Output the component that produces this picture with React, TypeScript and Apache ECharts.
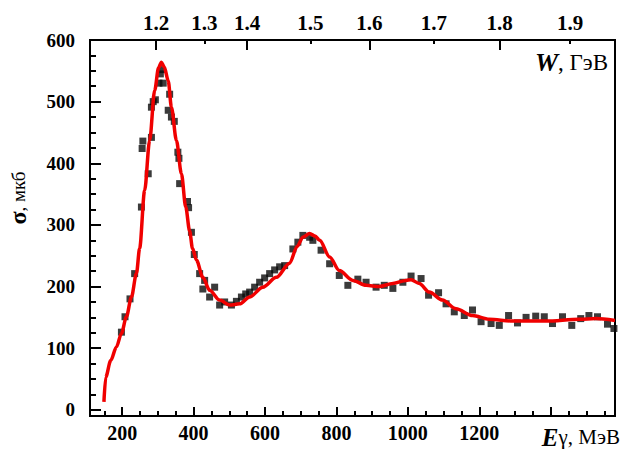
import React, { useEffect, useRef } from "react";
import * as echarts from "echarts";

// Measured cross-section points (E_gamma in MeV, sigma in µb)
const POINT_E = [198, 208, 222, 235, 254, 256, 258, 273, 282, 282, 287, 293, 303, 307, 310, 315, 329, 333, 338, 346, 356, 359, 361, 383, 386, 394, 402, 417, 426, 431, 445, 459, 473, 487, 506, 520, 534, 546, 557, 571, 585, 599, 613, 627, 641, 655, 678, 692, 706, 725, 734, 757, 781, 808, 832, 860, 883, 911, 934, 958, 986, 1009, 1037, 1058, 1086, 1107, 1130, 1158, 1181, 1205, 1233, 1256, 1282, 1307, 1331, 1358, 1382, 1405, 1433, 1459, 1484, 1507, 1531, 1559, 1577];
const POINT_SIGMA = [126, 151, 180, 221, 329, 424, 436, 383, 442, 491, 500, 503, 530, 545, 552, 530, 486, 512, 475, 468, 418, 408, 367, 338, 328, 288, 252, 221, 196, 210, 183, 199, 170, 175, 170, 176, 183, 188, 191, 199, 207, 214, 221, 227, 232, 234, 261, 272, 283, 280, 275, 259, 237, 218, 202, 212, 207, 199, 202, 197, 207, 217, 213, 186, 190, 172, 159, 153, 162, 143, 140, 137, 153, 141, 150, 152, 151, 140, 151, 137, 148, 153, 151, 139, 132];

// Fit curve
const CURVE_E = [149, 154, 168, 184, 198, 212, 226, 240, 249, 263, 277, 291, 302, 310, 318, 329, 338, 352, 366, 378, 389, 397, 408, 426, 445, 473, 501, 529, 557, 594, 632, 669, 690, 706, 725, 740, 753, 781, 808, 846, 883, 920, 958, 995, 1009, 1032, 1060, 1097, 1135, 1181, 1228, 1293, 1386, 1480, 1526, 1580];
const CURVE_SIGMA = [13, 53, 80, 102, 124, 151, 183, 221, 262, 356, 437, 518, 555, 564, 556, 534, 491, 437, 383, 329, 290, 262, 243, 215, 194, 178, 170, 172, 183, 199, 215, 238, 265, 280, 286, 282, 275, 248, 226, 210, 202, 200, 205, 210, 211, 205, 191, 178, 164, 153, 147, 144, 144, 147, 148, 145];

// Bottom axis ticks (MeV)
const E_MAJOR_TICKS = [200, 400, 600, 800, 1000, 1200, 1400];
const E_LABELS = [200, 400, 600, 800, 1000, 1200];
const E_MINOR_TICKS = [150, 250, 300, 350, 450, 500, 550, 650, 700, 750, 850, 900, 950, 1050, 1100, 1150, 1250, 1300, 1350, 1450, 1500, 1550];

// Top axis: W (GeV) labels at their E_gamma positions (MeV)
const W_LABELS = ["1.2", "1.3", "1.4", "1.5", "1.6", "1.7", "1.8", "1.9"];
const W_TICK_E = [295, 430, 550, 727, 892, 1073, 1257, 1454];
const W_LONG_E = [295, 550, 892, 1257];
const W_SHORT_E = [430, 727, 1073, 1454];

// Left axis ticks
const SIGMA_MAJOR = [0, 100, 200, 300, 400, 500, 600];
const SIGMA_MINOR = [25, 50, 75, 125, 150, 175, 225, 250, 275, 325, 350, 375, 425, 450, 475, 525, 550, 575];

const SERIF = "'Liberation Serif', 'Times New Roman', serif";

export default function App() {
  const ref = useRef<HTMLDivElement>(null);
  useEffect(() => {
    if (!ref.current) return;
    const chart = echarts.init(ref.current, null, { renderer: "svg" });
    const black = "#000";
    const labelBase = { color: black, fontWeight: "bold", fontFamily: SERIF };
    const noLine = { show: false, onZero: false };
    const xMin = 110;
    const xMax = 1580;
    const yMin = -10;
    const yMax = 600;
    chart.setOption({
      animation: false,
      backgroundColor: "#fff",
      grid: { left: 90, right: 7, top: 40, bottom: 37, show: true, borderColor: black, borderWidth: 2, backgroundColor: "transparent" },
      xAxis: [
        {
          type: "value", min: xMin, max: xMax, position: "bottom",
          axisLine: { onZero: false, lineStyle: { color: black, width: 2 } },
          axisTick: { inside: true, length: 9, customValues: E_MAJOR_TICKS, lineStyle: { color: black, width: 2 } },
          axisLabel: { ...labelBase, fontSize: 20, margin: 7, customValues: E_LABELS, formatter: (v: number) => String(v) },
          splitLine: { show: false },
        },
        {
          type: "value", min: xMin, max: xMax, position: "bottom",
          axisLine: noLine,
          axisTick: { inside: true, length: 5, customValues: E_MINOR_TICKS, lineStyle: { color: black, width: 2 } },
          axisLabel: { show: false },
          splitLine: { show: false },
        },
        {
          type: "value", min: xMin, max: xMax, position: "top",
          axisLine: { onZero: false, lineStyle: { color: black, width: 2 } },
          axisTick: { inside: true, length: 10, customValues: W_LONG_E, lineStyle: { color: black, width: 2 } },
          axisLabel: {
            ...labelBase, fontSize: 21, margin: 7, customValues: W_TICK_E,
            formatter: (v: number) => {
              const i = W_TICK_E.indexOf(v);
              return i >= 0 ? W_LABELS[i] : "";
            },
          },
          splitLine: { show: false },
        },
        {
          type: "value", min: xMin, max: xMax, position: "top",
          axisLine: noLine,
          axisTick: { inside: true, length: 4, customValues: W_SHORT_E, lineStyle: { color: black, width: 2 } },
          axisLabel: { show: false },
          splitLine: { show: false },
        },
      ],
      yAxis: [
        {
          type: "value", min: yMin, max: yMax, position: "left",
          axisLine: { show: true, onZero: false, lineStyle: { color: black, width: 2 } },
          axisTick: { show: true, inside: true, length: 11, customValues: SIGMA_MAJOR, lineStyle: { color: black, width: 2 } },
          axisLabel: { ...labelBase, fontSize: 19, margin: 15, customValues: SIGMA_MAJOR },
          splitLine: { show: false },
        },
        {
          type: "value", min: yMin, max: yMax, position: "left",
          axisLine: noLine,
          axisTick: { show: true, inside: true, length: 6, customValues: SIGMA_MINOR, lineStyle: { color: black, width: 2 } },
          axisLabel: { show: false },
          splitLine: { show: false },
        },
      ],
      series: [
        {
          type: "scatter",
          xAxisIndex: 0,
          yAxisIndex: 0,
          symbol: "rect",
          symbolSize: 7,
          itemStyle: { color: "#0a0a0a" },
          data: POINT_E.map((e, i) => [e, POINT_SIGMA[i]]),
          z: 2,
        },
        {
          type: "line",
          xAxisIndex: 0,
          yAxisIndex: 0,
          showSymbol: false,
          smooth: 0.3,
          smoothMonotone: "x",
          lineStyle: { color: "#f00000", width: 3.5 },
          data: CURVE_E.map((e, i) => [e, CURVE_SIGMA[i]]),
          z: 3,
        },
      ],
      graphic: [
        {
          type: "text",
          x: 620,
          y: 437,
          style: {
            text: "{e|E}{g|γ, МэВ}",
            align: "right",
            verticalAlign: "middle",
            rich: {
              e: { fontFamily: SERIF, fontWeight: "bold", fontStyle: "italic", fontSize: 25, fill: black },
              g: { fontFamily: SERIF, fontSize: 21, fill: black },
            },
          },
        },
        {
          type: "text",
          x: 608,
          y: 62,
          style: {
            text: "{w|W}{g|, ГэВ}",
            align: "right",
            verticalAlign: "middle",
            rich: {
              w: { fontFamily: SERIF, fontWeight: "bold", fontStyle: "italic", fontSize: 26, fill: black },
              g: { fontFamily: SERIF, fontSize: 23, fill: black },
            },
          },
        },
        {
          type: "text",
          x: 18,
          y: 198,
          rotation: Math.PI / 2,
          style: {
            text: "{s|σ}{m|, мкб}",
            align: "center",
            verticalAlign: "middle",
            rich: {
              s: { fontFamily: SERIF, fontWeight: "bold", fontSize: 24, fill: black },
              m: { fontFamily: SERIF, fontSize: 19, fill: black },
            },
          },
        },
      ],
    });
    return () => chart.dispose();
  }, []);
  return <div ref={ref} style={{ position: "fixed", left: 0, top: 0, width: 622, height: 453, background: "#fff" }} />;
}
